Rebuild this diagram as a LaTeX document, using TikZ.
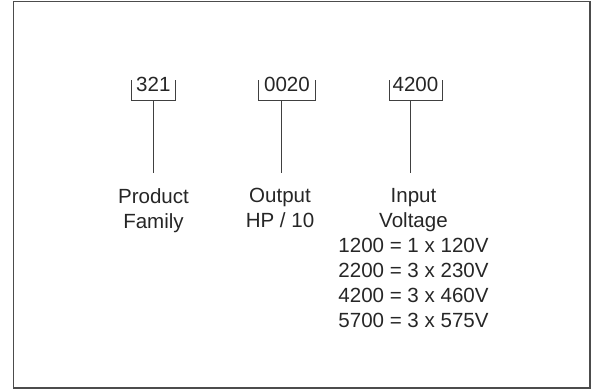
\documentclass[tikz,border=0pt]{standalone}
\usepackage{fontspec}
\setmainfont{Liberation Sans}
\usepackage{tikz}
\usetikzlibrary{calc}
\colorlet{frameline}{black!70}
\colorlet{codeline}{black!75}
\colorlet{codetext}{black!85}

\begin{document}
\begin{tikzpicture}[x=0.75pt, y=-0.75pt,
    font=\fontsize{15.4}{18.75}\selectfont,
    codebox/.style={inner sep=0pt, anchor=base, text=codetext},
    codelabel/.style={inner xsep=0pt, inner ysep=11.25pt, anchor=north, align=center, text=codetext},
    bracket/.style={draw=codeline, line width=0.6pt}]
  \useasboundingbox (0,0) rectangle (594,389);
  \draw[frameline, line width=0.9pt] (13.5,1.5) rectangle (590,388);

  % code digits
  \node[codebox, minimum width=32.5pt] (c1) at (153.35,91) {321};
  \node[codebox, minimum width=42pt] (c2) at (287,91) {0020};
  \node[codebox, minimum width=39.3pt] (c3) at (415.5,91) {4200};

  % brackets under the digits
  \draw[bracket] (c1.base west) ++(0,-11) |- ($(c1.base east)+(0,9)$) -- ++(0,-20);
  \draw[bracket] (c2.base west) ++(0,-11) |- ($(c2.base east)+(0,9)$) -- ++(0,-20);
  \draw[bracket] (c3.base west) ++(0,-11) |- ($(c3.base east)+(0,9)$) -- ++(0,-20);
  \coordinate (s1) at (153.3,100);
  \coordinate (s2) at (281.7,100);
  \coordinate (s3) at (410.7,100);

  % meanings
  \node[codelabel] (l1) at (153.5,173) {Product\\Family};
  \node[codelabel] (l2) at (280,173) {Output\\HP / 10};
  \node[codelabel] (l3) at (413.5,173) {Input\\Voltage\\1200 = 1 x 120V\\2200 = 3 x 230V\\4200 = 3 x 460V\\5700 = 3 x 575V};

  \draw[bracket] (s1) -- (s1 |- l1.north);
  \draw[bracket] (s2) -- (s2 |- l2.north);
  \draw[bracket] (s3) -- (s3 |- l3.north);
\end{tikzpicture}
\end{document}
